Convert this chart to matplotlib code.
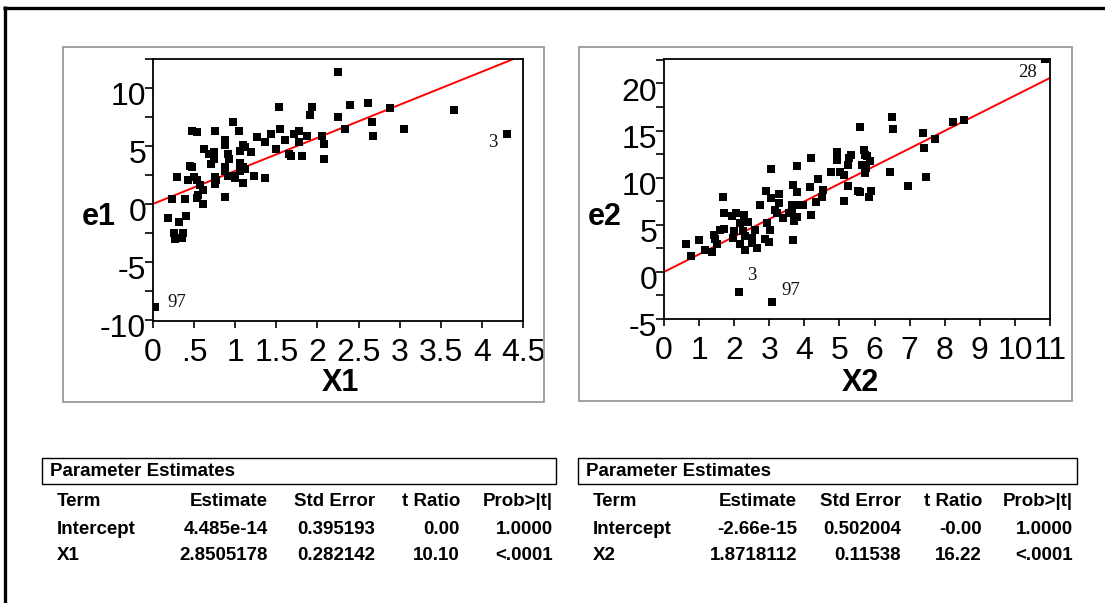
import matplotlib
matplotlib.use('Agg')
import matplotlib.pyplot as plt
import matplotlib.transforms as mtransforms
from matplotlib.patches import Rectangle
from matplotlib.lines import Line2D
from matplotlib.ticker import FixedLocator, FixedFormatter

plt.rcParams['axes.unicode_minus'] = False

# ---------------- data ----------------
x1 = [2.25, 1.53, 1.93, 1.91, 2.40, 2.62, 2.88, 3.66, 2.25, 2.66, 0.97, 2.34, 3.05, 2.68, 4.31,
      0.48, 0.53, 0.76, 1.04, 1.54, 1.77, 1.44, 1.27, 1.72, 1.87, 2.06, 0.87, 0.87, 1.60, 1.77,
      1.36, 1.09, 1.12, 2.08, 0.62, 0.74, 1.50, 1.06, 1.19, 0.68, 0.91, 1.66, 1.68, 1.81, 2.08,
      0.93, 0.74, 0.70, 0.45, 0.48, 0.88, 1.06, 1.09, 0.29, 0.43, 0.50, 0.53, 0.76, 0.77, 0.76,
      0.91, 0.88, 0.97, 1.00, 1.06, 1.12, 1.09, 1.23, 1.36, 0.57, 0.61, 0.55, 0.53, 0.61, 0.87,
      0.23, 0.39, 0.18, 0.40, 0.32, 0.26, 0.36, 0.27, 0.35, 0.02]
e1 = [11.4, 8.4, 8.4, 7.7, 8.5, 8.7, 8.3, 8.1, 7.5, 7.1, 7.1, 6.5, 6.5, 5.9, 6.0,
      6.3, 6.2, 6.3, 6.3, 6.5, 6.3, 6.0, 5.8, 6.0, 5.9, 5.9, 5.5, 5.1, 5.5, 5.3,
      5.3, 5.1, 4.9, 5.2, 4.7, 4.5, 4.7, 4.6, 4.5, 4.3, 4.3, 4.3, 4.1, 4.1, 3.9,
      3.9, 3.9, 3.4, 3.3, 3.2, 3.2, 3.5, 3.2, 2.3, 2.1, 2.3, 2.1, 2.3, 2.1, 1.7,
      2.4, 2.8, 2.4, 2.2, 2.8, 3.0, 1.8, 2.4, 2.2, 1.6, 1.2, 0.8, 0.5, 0.0, 0.6,
      0.4, 0.4, -1.2, -1.0, -1.6, -2.5, -2.5, -3.0, -2.9, -8.9]

x2 = [10.87, 6.50, 6.54, 5.58, 8.23, 8.56, 7.38, 7.73, 7.42, 7.46, 6.95, 6.45, 4.94, 4.94, 5.34,
      5.28, 5.25, 5.71, 5.73, 5.78, 5.87, 5.63, 5.75, 5.72, 4.75, 5.02, 5.14, 5.25, 5.53, 5.58,
      5.89, 5.85, 5.12, 4.20, 3.78, 3.05, 4.39, 4.16, 3.69, 3.79, 4.54, 4.49, 4.33, 2.91, 3.28,
      3.05, 3.28, 2.73, 3.65, 3.80, 3.97, 3.17, 3.21, 3.57, 3.65, 3.78, 3.38, 3.70, 4.20, 1.68,
      1.72, 1.93, 2.06, 2.29, 2.40, 2.18, 2.59, 2.94, 3.01, 1.72, 1.61, 1.99, 2.26, 1.42, 1.45,
      1.97, 2.31, 2.50, 2.18, 2.50, 2.31, 2.64, 2.88, 2.98, 3.69, 0.63, 0.99, 0.76, 1.17, 1.36,
      1.50, 2.14, 3.07]
e2 = [22.6, 16.4, 15.2, 15.4, 15.9, 16.1, 14.7, 14.1, 13.2, 10.1, 9.1, 10.6, 12.7, 11.9, 12.4,
      12.1, 11.4, 12.9, 12.4, 12.3, 11.8, 11.3, 11.0, 10.5, 10.6, 10.6, 10.3, 9.1, 8.6, 8.5,
      8.6, 7.9, 7.5, 12.1, 11.2, 10.9, 9.9, 9.0, 9.2, 8.5, 8.7, 7.9, 7.4, 8.6, 8.3,
      7.8, 7.3, 7.1, 7.1, 7.1, 7.1, 6.6, 6.3, 6.3, 6.2, 5.8, 5.7, 5.4, 6.0, 7.9,
      6.3, 5.9, 6.3, 6.0, 5.3, 5.2, 4.5, 5.2, 4.5, 4.6, 4.4, 4.3, 4.3, 3.9, 3.5,
      3.6, 3.8, 3.6, 3.0, 3.1, 2.3, 2.5, 3.5, 3.2, 3.4, 3.0, 3.4, 1.7, 2.3, 2.1,
      3.0, -2.1, -3.2]

# labelled rows: (label, x, y)
labels1 = [("97", 0.02, -8.9), ("3", 4.31, 6.0)]
labels2 = [("28", 10.87, 22.6), ("3", 2.14, -2.1), ("97", 3.07, -3.2)]

x1_ticks = [0, 0.5, 1, 1.5, 2, 2.5, 3, 3.5, 4, 4.5]
x1_ticklabels = ["0", ".5", "1", "1.5", "2", "2.5", "3", "3.5", "4", "4.5"]
y1_ticks = [-10, -5, 0, 5, 10]
x2_ticks = list(range(0, 12))
x2_ticklabels = [str(v) for v in x2_ticks]
y2_ticks = [-5, 0, 5, 10, 15, 20]

table_cols = ["Term", "Estimate", "Std Error", "t Ratio", "Prob>|t|"]
table1_rows = [["Intercept", "4.485e-14", "0.395193", "0.00", "1.0000"],
               ["X1", "2.8505178", "0.282142", "10.10", "<.0001"]]
table2_rows = [["Intercept", "-2.66e-15", "0.502004", "-0.00", "1.0000"],
               ["X2", "1.8718112", "0.11538", "16.22", "<.0001"]]
fit1 = (4.485e-14, 2.8505178)
fit2 = (-2.66e-15, 1.8718112)

# ---------------- figure ----------------
W, H = 1105, 603
fig = plt.figure(figsize=(W / 100, H / 100), dpi=100)
fig.patch.set_facecolor('white')


def fx(px):
    return px / W


def fy(py):
    return 1 - py / H


SANS = ['Liberation Sans', 'DejaVu Sans']
SERIF = ['Liberation Serif', 'DejaVu Serif']

# outer black frame (top and left)
fig.add_artist(Line2D([fx(3), fx(1105)], [fy(7.5), fy(7.5)], color='black', lw=2.4,
                      transform=fig.transFigure, solid_capstyle='butt'))
fig.add_artist(Line2D([fx(4.5), fx(4.5)], [fy(6), fy(603)], color='black', lw=2.4,
                      transform=fig.transFigure, solid_capstyle='butt'))

# gray panel boxes
for (x0, y0, x1_, y1_) in [(63, 47, 544, 402), (579, 47, 1072, 401)]:
    fig.add_artist(Rectangle((fx(x0), fy(y1_)), (x1_ - x0) / W, (y1_ - y0) / H,
                             transform=fig.transFigure, fill=False, ec='#9a9a9a', lw=1.3))

ylab_shift = mtransforms.ScaledTranslation(0, -6 / 100, fig.dpi_scale_trans)


def make_panel(rect, xs, ys, fit, xlim, ylim, xticks, xticklabels, yticks, yminor,
               labels, offsets, ylab, xlab, ylab_pos, xlab_pos):
    ax = fig.add_axes(rect)
    ax.scatter(xs, ys, marker='s', s=34, color='black', linewidths=0, zorder=3)
    b0, b1 = fit
    ax.plot([xlim[0], xlim[1]], [b0 + b1 * xlim[0], b0 + b1 * xlim[1]], color='red', lw=1.4, zorder=2)
    ax.set_xlim(*xlim)
    ax.set_ylim(*ylim)
    ax.xaxis.set_major_locator(FixedLocator(xticks))
    ax.xaxis.set_major_formatter(FixedFormatter(xticklabels))
    ax.yaxis.set_major_locator(FixedLocator(yticks))
    ax.yaxis.set_minor_locator(FixedLocator(yminor))
    ax.tick_params(axis='both', which='both', direction='out', width=1.2, colors='black')
    ax.tick_params(axis='y', which='both', length=6, pad=-1)
    ax.tick_params(axis='x', which='major', length=5, pad=7)
    for lab in ax.get_xticklabels() + ax.get_yticklabels():
        lab.set_fontfamily(SANS)
        lab.set_fontsize(23)
    for lab in ax.get_yticklabels():
        lab.set_transform(lab.get_transform() + ylab_shift)
    for sp in ax.spines.values():
        sp.set_linewidth(1.3)
    for (t, x, y), off in zip(labels, offsets):
        ax.annotate(t, xy=(x, y), xytext=off, textcoords='offset pixels',
                    ha='center', va='center', fontsize=13.5, family=SERIF, color='#111111')
    fig.text(fx(ylab_pos[0]), fy(ylab_pos[1]), ylab, fontsize=22, fontweight='bold',
             family=SANS, ha='center', va='center')
    fig.text(fx(xlab_pos[0]), fy(xlab_pos[1]), xlab, fontsize=22, fontweight='bold',
             family=SANS, ha='center', va='center')
    return ax


ax1 = make_panel([fx(153), fy(321), (523 - 153) / W, (321 - 59) / H], x1, e1, fit1,
                 (0, 4.5), (-10.1, 12.5), x1_ticks, x1_ticklabels, y1_ticks,
                 [-7.5, -2.5, 2.5, 7.5, 12.5], labels1, [(22, 5), (-15, -8)],
                 "e1", "X1", (99, 217), (340, 383))
ax2 = make_panel([fx(664), fy(319), (1050 - 664) / W, (319 - 59) / H], x2, e2, fit2,
                 (0, 11), (-5, 22.6), x2_ticks, x2_ticklabels, y2_ticks,
                 [-2.5, 2.5, 7.5, 12.5, 17.5, 22.5], labels2, [(-18, -13), (13, 16), (19, 12)],
                 "e2", "X2", (605, 217), (860, 383))


# ---------------- tables ----------------
def draw_table(box, title_x, term_x, col_right, rows):
    x0, y0, x1_, y1_ = box
    fig.add_artist(Rectangle((fx(x0), fy(y1_)), (x1_ - x0) / W, (y1_ - y0) / H,
                             transform=fig.transFigure, fill=False, ec='black', lw=1.0))
    fs = 13.5
    fig.text(fx(title_x), fy(471), "Parameter Estimates", fontsize=fs, fontweight='bold',
             family=SANS, ha='left', va='center')
    ys = [502, 529, 556]
    all_rows = [table_cols] + rows
    for r, yy in zip(all_rows, ys):
        fig.text(fx(term_x), fy(yy), r[0], fontsize=fs, fontweight='bold', family=SANS,
                 ha='left', va='center')
        for val, xr in zip(r[1:], col_right):
            fig.text(fx(xr), fy(yy), val, fontsize=fs, fontweight='bold', family=SANS,
                     ha='right', va='center')


draw_table((42, 458, 556, 484), 50, 57, [268, 375, 460, 553], table1_rows)
draw_table((578, 458, 1077, 484), 586, 593, [797, 901, 982, 1073], table2_rows)

fig.savefig('out.png', dpi=100, facecolor='white')
